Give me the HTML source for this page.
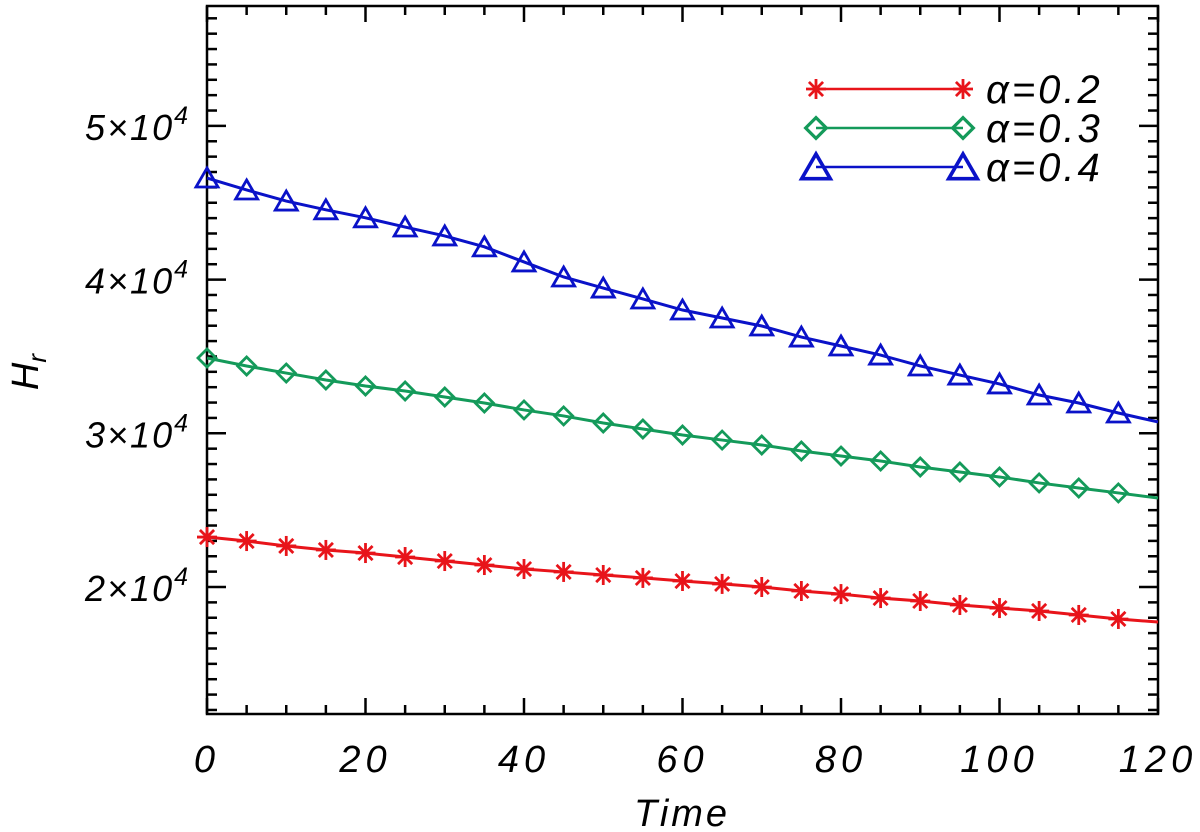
<!DOCTYPE html>
<html><head><meta charset="utf-8"><style>
html,body{margin:0;padding:0;background:#fff;width:1200px;height:832px;overflow:hidden}
text{font-family:"Liberation Sans",sans-serif;font-style:italic;fill:#000}
</style></head><body>
<svg id="chart" width="1200" height="832" xmlns="http://www.w3.org/2000/svg">
<g id="axes"></g>
<g id="series"></g>
<g id="legend"></g>
</svg>
<script>
const times=[0,5,10,15,20,25,30,35,40,45,50,55,60,65,70,75,80,85,90,95,100,105,110,115,120];
const alpha02=[23250,22990,22670,22410,22210,21950,21690,21430,21170,20980,20780,20590,20390,20200,20000,19740,19540,19280,19090,18830,18630,18440,18180,17920,17720];
const alpha03=[34900,34380,33920,33470,33080,32750,32360,31970,31520,31130,30670,30280,29890,29560,29240,28850,28520,28200,27810,27480,27160,26770,26440,26120,25790];
const alpha04=[46610,45830,45110,44540,44020,43420,42840,42130,41150,40170,39450,38740,38020,37500,36980,36260,35680,35090,34380,33790,33210,32490,31970,31320,30740];
const xTicks=[0,20,40,60,80,100,120];
const yTicks=[2,3,4,5];

const NS="http://www.w3.org/2000/svg";
const L=207,R=1158,T=6,B=714;
const X=t=>L+(t-0)/120*(R-L);
const Y=v=>587-(v-20000)*0.01537;
function mk(tag,attrs,parent){const e=document.createElementNS(NS,tag);for(const k in attrs)e.setAttribute(k,attrs[k]);parent.appendChild(e);return e;}
const axes=document.getElementById('axes');
const fr=mk('rect',{x:L,y:T,width:R-L,height:B-T,fill:'none',stroke:'#000','stroke-width':2.5},axes);


for(let t=0;t<=120;t+=5){const major=t%20===0;const len=major?16:9;
 const a=mk('line',{x1:X(t),x2:X(t),y1:B,y2:B-len,stroke:'#000','stroke-width':2.5},axes);
 
 
 const b=mk('line',{x1:X(t),x2:X(t),y1:T,y2:T+len,stroke:'#000','stroke-width':2.5},axes);
 
 }
xTicks.forEach(t=>{const tx=mk('text',{x:X(t),y:772,'text-anchor':'middle','font-size':38,'letter-spacing':5},axes);tx.textContent=t;
 
 });
for(let v=12000;v<=57000;v+=1000){const y=Y(v);if(y<T||y>B)continue;const major=v%10000===0;const len=major?19:10;
 const a=mk('line',{x1:L,x2:L+len,y1:y,y2:y,stroke:'#000','stroke-width':2.5},axes);
 
 
 const b=mk('line',{x1:R,x2:R-len,y1:y,y2:y,stroke:'#000','stroke-width':2.5},axes);
 
 }
yTicks.forEach(m=>{const tx=mk('text',{x:190,y:Y(m*10000)+14,'text-anchor':'end','font-size':36,'letter-spacing':2},axes);
 tx.innerHTML=m+'×10<tspan dy="-16" font-size="25">4</tspan>';
 
 });
const xt=mk('text',{x:682,y:826,'text-anchor':'middle','font-size':38,'letter-spacing':3},axes);xt.textContent='Time';


const yt=mk('text',{x:0,y:0,'text-anchor':'middle','font-size':38,transform:'translate(38,372) rotate(-90)'},axes);
yt.innerHTML='H<tspan dy="8" font-size="26">r</tspan>';



function marker(type,cx,cy,color,parent){
 const g=mk('g',{stroke:color,'stroke-width':2.8,fill:'none'},parent);
 if(type==='star'){const r=10;for(let i=0;i<4;i++){const a=i*Math.PI/4;mk('line',{x1:cx-r*Math.cos(a),y1:cy-r*Math.sin(a),x2:cx+r*Math.cos(a),y2:cy+r*Math.sin(a)},g);}}
 else if(type==='diamond'){const r=9;mk('polygon',{points:`${cx},${cy-r} ${cx+r},${cy} ${cx},${cy+r} ${cx-r},${cy}`},g);}
 else {mk('polygon',{points:`${cx},${cy-10} ${cx+11},${cy+9} ${cx-11},${cy+9}`},g);}
 return g;}
const ser=document.getElementById('series');
const defs=[[alpha02,'#e8141a','star','0.2'],[alpha03,'#149a5a','diamond','0.3'],[alpha04,'#0a12c8','tri','0.4']];
defs.forEach(([vals,col,mt,lab])=>{
 const pts=times.map((t,i)=>X(t)+','+Y(vals[i])).join(' ');
 const pl=mk('polyline',{points:pts,fill:'none',stroke:col,'stroke-width':3},ser);
 
 
 times.forEach((t,i)=>{if(t>=120)return;const m=marker(mt,X(t),Y(vals[i]),col,ser);
  
  });
});
const leg=document.getElementById('legend');
defs.forEach(([vals,col,mt,lab],i)=>{const y=89+i*39;
 const g=mk('g',{},leg);
 
 
 mk('line',{x1:816,x2:963,y1:y,y2:y,stroke:col,'stroke-width':2.5},g);
 if(mt==='star'){marker(mt,816,y,col,g);marker(mt,963,y,col,g);}
 else{const s=mt==='tri'?1.3:1.15;[816,963].forEach(cx=>{const m=marker(mt,0,0,col,g);m.setAttribute('transform',`translate(${cx},${y}) scale(${s})`);});}
 const tx=mk('text',{x:986,y:y+14,'font-size':40,'letter-spacing':3},g);tx.textContent='α=0.'+lab.slice(-1);});
</script>
</body></html>
